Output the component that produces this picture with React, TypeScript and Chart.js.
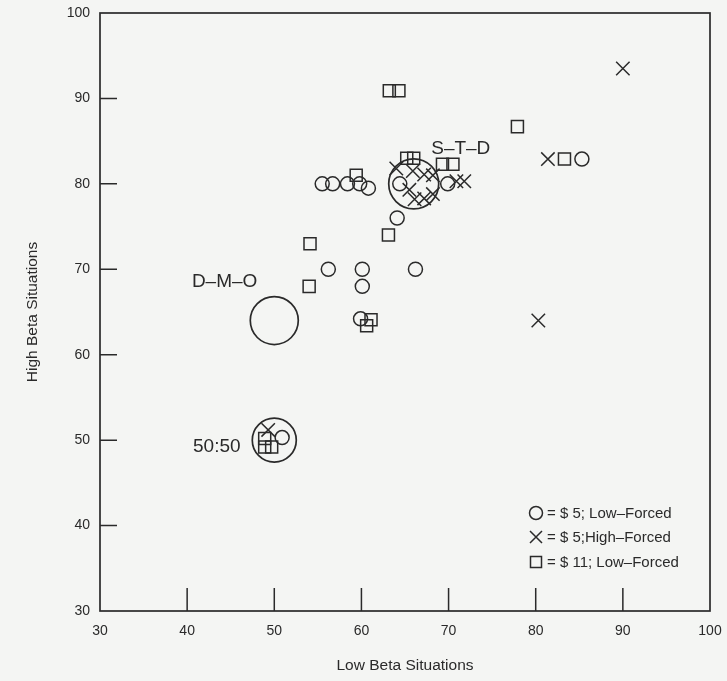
import React, { useEffect, useRef } from 'react';
import { Chart, registerables } from 'chart.js';

Chart.register(...registerables);

// Axis range and the inner tick marks along each side
const axisMin = 30;
const axisMax = 100;
const innerTicks = [40, 50, 60, 70, 80, 90];

// $5 stake, low-forced condition: [low beta %, high beta %]
const lowForced5: [number, number][] = [
  [55.5, 80], [56.7, 80], [58.4, 80], [59.8, 80], [60.8, 79.5],
  [64.4, 80], [69.9, 80], [64.1, 76],
  [56.2, 70], [60.1, 70], [66.2, 70], [60.1, 68], [59.9, 64.2],
  [85.3, 82.9], [50.9, 50.3],
];

// $5 stake, high-forced condition
const highForced5: [number, number][] = [
  [90, 93.5], [81.4, 82.9], [80.3, 64],
  [64.0, 81.8], [65.9, 81.5], [67.2, 81.1], [68.2, 81.0],
  [70.9, 80.3], [71.8, 80.3], [65.5, 79.3], [66.1, 78.2],
  [67.2, 78.3], [68.2, 78.8], [49.3, 51.2],
];

// $11 stake, low-forced condition
const lowForced11: [number, number][] = [
  [63.2, 90.9], [64.3, 90.9], [77.9, 86.7], [83.3, 82.9],
  [65.2, 83.0], [66.0, 83.0], [69.3, 82.3], [70.5, 82.3],
  [59.4, 81], [54.1, 73], [63.1, 74], [54.0, 68],
  [61.1, 64.1], [60.6, 63.4],
  [48.9, 50.2], [48.9, 49.2], [49.7, 49.2],
];

// Reference solutions drawn as large rings with their names
const regionNames = ['S–T–D', 'D–M–O', '50:50'];
const regionCentres: [number, number][] = [[66, 80], [50, 64], [50, 50]];
const regionRadii = [25, 24, 22];
const regionLabelPos: [number, number][] = [[71.4, 84.1], [44.3, 68.5], [43.4, 49.2]];

// Legend entries
const legendTexts = ['= $ 5; Low–Forced', '= $ 5;High–Forced', '= $ 11; Low–Forced'];

const INK = '#2a2a2a';
const PAPER = '#f4f5f3';
const FONT = "'Liberation Sans', Arial, sans-serif";

const toPoints = (arr: [number, number][]) => arr.map(([x, y]) => ({ x, y }));

// let the layout padding alone decide where the plot frame sits
const clearPadding = (scale: any) => {
  scale.paddingTop = 0;
  scale.paddingBottom = 0;
  scale.paddingLeft = 0;
  scale.paddingRight = 0;
};

const paperPlugin = {
  id: 'paper',
  beforeDraw(chart: any) {
    const { ctx, width, height } = chart;
    ctx.save();
    ctx.fillStyle = PAPER;
    ctx.fillRect(0, 0, width, height);
    ctx.restore();
  },
};

const framePlugin = {
  id: 'frame',
  afterDraw(chart: any) {
    const { ctx, chartArea: a, scales } = chart;
    const xs = scales.x;
    const ys = scales.y;
    ctx.save();
    ctx.strokeStyle = INK;
    ctx.lineWidth = 1.7;
    ctx.strokeRect(a.left, a.top, a.right - a.left, a.bottom - a.top);
    ctx.lineWidth = 1.5;
    ctx.beginPath();
    innerTicks.forEach((v) => {
      const px = xs.getPixelForValue(v);
      ctx.moveTo(px, a.bottom);
      ctx.lineTo(px, a.bottom - 23);
      const py = ys.getPixelForValue(v);
      ctx.moveTo(a.left, py);
      ctx.lineTo(a.left + 17, py);
    });
    ctx.stroke();

    // region names
    ctx.fillStyle = INK;
    ctx.font = `19px ${FONT}`;
    ctx.textAlign = 'center';
    ctx.textBaseline = 'middle';
    regionNames.forEach((name, i) => {
      const [lx, ly] = regionLabelPos[i];
      ctx.fillText(name, xs.getPixelForValue(lx), ys.getPixelForValue(ly));
    });

    // legend in the lower right corner of the plot
    const mx = a.right - 174;
    const tx = a.right - 163;
    const rows = [a.bottom - 98, a.bottom - 74, a.bottom - 49];
    ctx.lineWidth = 1.5;
    ctx.strokeStyle = INK;
    // circle
    ctx.beginPath();
    ctx.arc(mx, rows[0], 6.5, 0, Math.PI * 2);
    ctx.stroke();
    // cross
    ctx.beginPath();
    ctx.moveTo(mx - 6, rows[1] - 6);
    ctx.lineTo(mx + 6, rows[1] + 6);
    ctx.moveTo(mx + 6, rows[1] - 6);
    ctx.lineTo(mx - 6, rows[1] + 6);
    ctx.stroke();
    // square
    ctx.strokeRect(mx - 5.5, rows[2] - 5.5, 11, 11);

    ctx.font = `15px ${FONT}`;
    ctx.textAlign = 'left';
    legendTexts.forEach((t, i) => ctx.fillText(t, tx, rows[i] + 1));
    ctx.restore();
  },
};

export default function App() {
  const canvasRef = useRef<HTMLCanvasElement | null>(null);

  useEffect(() => {
    const canvas = canvasRef.current;
    if (!canvas) return;
    const markerBase = {
      borderColor: INK,
      backgroundColor: 'rgba(0,0,0,0)',
      pointBorderWidth: 1.5,
      showLine: false,
    };
    const chart = new Chart(canvas, {
      type: 'scatter',
      data: {
        datasets: [
          {
            ...markerBase,
            label: 'Regions',
            data: toPoints(regionCentres),
            pointStyle: 'circle',
            pointRadius: regionRadii,
            pointBorderWidth: 1.7,
          },
          {
            ...markerBase,
            label: '$5 Low-Forced',
            data: toPoints(lowForced5),
            pointStyle: 'circle',
            pointRadius: 7,
          },
          {
            ...markerBase,
            label: '$5 High-Forced',
            data: toPoints(highForced5),
            pointStyle: 'crossRot',
            pointRadius: 9.5,
          },
          {
            ...markerBase,
            label: '$11 Low-Forced',
            data: toPoints(lowForced11),
            pointStyle: 'rect',
            pointRadius: 8.5,
          },
        ],
      },
      options: {
        animation: false,
        responsive: true,
        maintainAspectRatio: false,
        events: [],
        layout: { autoPadding: false, padding: { left: 0, top: 13, right: 17, bottom: 0 } },
        plugins: {
          legend: { display: false },
          tooltip: { enabled: false },
        },
        scales: {
          x: {
            type: 'linear',
            min: axisMin,
            max: axisMax,
            grid: { display: false, drawTicks: false },
            border: { display: false },
            ticks: {
              stepSize: 10,
              color: INK,
              padding: 12,
              font: { family: FONT, size: 14 },
            },
            title: {
              display: true,
              text: 'Low Beta Situations',
              color: INK,
              font: { family: FONT, size: 15.5 },
              padding: { top: 6, bottom: 6 },
            },
            afterFit(scale: any) {
              scale.height = 70;
              clearPadding(scale);
            },
          },
          y: {
            type: 'linear',
            min: axisMin,
            max: axisMax,
            grid: { display: false, drawTicks: false },
            border: { display: false },
            ticks: {
              stepSize: 10,
              color: INK,
              padding: 10,
              font: { family: FONT, size: 14 },
            },
            title: {
              display: true,
              text: 'High Beta Situations',
              color: INK,
              font: { family: FONT, size: 15.5 },
              padding: { top: 23, bottom: 23 },
            },
            afterFit(scale: any) {
              scale.width = 100;
              clearPadding(scale);
            },
          },
        },
      },
      plugins: [paperPlugin, framePlugin],
    });
    return () => chart.destroy();
  }, []);

  return (
    <div style={{ position: 'absolute', left: 0, top: 0, width: 727, height: 681, background: PAPER }}>
      <canvas ref={canvasRef} />
    </div>
  );
}
